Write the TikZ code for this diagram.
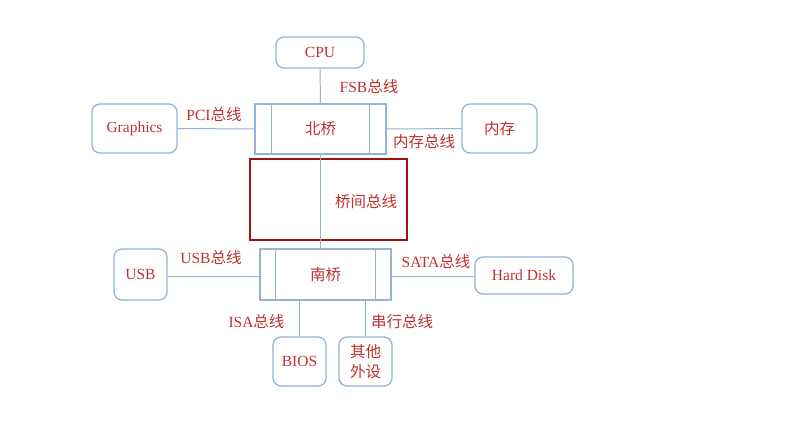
\documentclass[tikz,border=0pt]{standalone}
\usepackage{fontspec}
\setmainfont{Liberation Serif}
\newfontfamily\cjk{Noto Sans CJK SC}
\usetikzlibrary{calc}
\definecolor{boxblue}{RGB}{149,179,215}
\definecolor{txtred}{RGB}{190,50,50}
\definecolor{darkred}{RGB}{155,20,20}
\begin{document}
\begin{tikzpicture}[x=1pt,y=-1pt,
  dev/.style={draw=boxblue,line width=1.3pt,rounded corners=8pt,fill=white,
    inner sep=0pt,text=txtred,font=\fontsize{15.5}{18}\selectfont,align=center},
  bridge/.style={draw=boxblue,line width=1.3pt,fill=white,inner sep=0pt,
    text=txtred,font=\fontsize{15.5}{18}\selectfont},
  bus/.style={draw=boxblue,line width=1pt},
  lbl/.style={text=txtred,inner sep=0pt,font=\fontsize{15.5}{18}\selectfont}]
\useasboundingbox (0,0) rectangle (800,441);
\fill[white] (0,0) rectangle (800,441);
% red box
\node[draw=darkred,line width=2pt,minimum width=157pt,minimum height=81pt,inner sep=0pt] (rb) at (328.5,199.5) {};
% nodes
\node[dev,minimum width=88pt,minimum height=31pt] (cpu) at (320,52.5) {CPU};
\node[bridge,minimum width=131pt,minimum height=50pt] (nb) at (320.5,129) {\cjk 北桥};
\node[dev,minimum width=85pt,minimum height=49pt] (gr) at (134.5,128.5) {Graphics};
\node[dev,minimum width=75pt,minimum height=49pt] (mem) at (499.5,128.5) {\cjk 内存};
\node[bridge,minimum width=131pt,minimum height=51pt] (sb) at (325.5,274.5) {\cjk 南桥};
\node[dev,minimum width=53pt,minimum height=51pt] (usb) at (140.5,274.5) {USB};
\node[dev,minimum width=98pt,minimum height=37pt] (hd) at (524,275.5) {Hard Disk};
\node[dev,minimum width=53pt,minimum height=49pt] (bios) at (299.5,361.5) {BIOS};
\node[dev,minimum width=53pt,minimum height=49pt,font=\fontsize{15.5}{19.5}\selectfont] (oth) at (365.5,361.5) {\cjk 其他\\\cjk 外设};
% inner lines of bridges
\draw[boxblue,line width=1.3pt] ($(nb.north west)+(17,0)$) coordinate (nb1) -- (nb1 |- nb.south);
\draw[boxblue,line width=1.3pt] ($(nb.north east)+(-17,0)$) coordinate (nb2) -- (nb2 |- nb.south);
\draw[boxblue,line width=1.3pt] ($(sb.north west)+(16,0)$) coordinate (sb1) -- (sb1 |- sb.south);
\draw[boxblue,line width=1.3pt] ($(sb.north east)+(-16,0)$) coordinate (sb2) -- (sb2 |- sb.south);
% connectors
\draw[bus] (cpu.south) -- (nb.north);
\draw[bus] (gr.east) -- (nb.west);
\draw[bus] (nb.east) -- (mem.west);
\draw[bus] (nb.south) -- (nb.south |- sb.north);
\draw[bus] (usb.east |- 0,276) -- (sb.west |- 0,276);
\draw[bus] (sb.east |- 0,276) -- (hd.west |- 0,276);
\draw[bus] (bios.north) -- (bios.north |- sb.south);
\draw[bus] (oth.north) -- (oth.north |- sb.south);
% labels
\node[lbl] (lfsb) at (369,87) {FSB{\cjk 总线}};
\node[lbl] (lpci) at (214,115) {PCI{\cjk 总线}};
\node[lbl] (lmem) at (424,142) {\cjk 内存总线};
\node[lbl] (lqj) at (366,202) {\cjk 桥间总线};
\node[lbl] (lusb) at (211,258) {USB{\cjk 总线}};
\node[lbl] (lsata) at (436,262) {SATA{\cjk 总线}};
\node[lbl] (lisa) at (256.5,322) {ISA{\cjk 总线}};
\node[lbl] (lser) at (402,322) {\cjk 串行总线};
\end{tikzpicture}
\end{document}
